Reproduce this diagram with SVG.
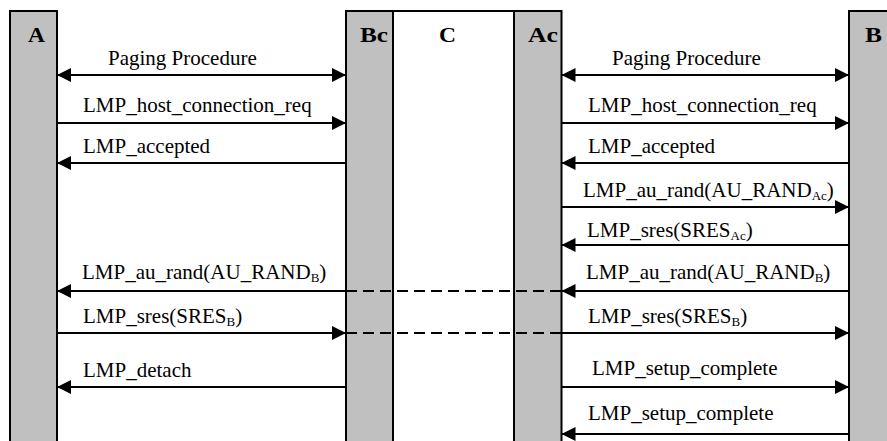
<svg xmlns="http://www.w3.org/2000/svg" width="887" height="441" viewBox="0 0 887 441">
<style>
.bar{fill:#c0c0c0;stroke:#000;stroke-width:2}
.box{fill:#fff;stroke:#000;stroke-width:2}
.title{font-family:"Liberation Serif","Times New Roman",serif;font-weight:bold;font-size:20px;fill:#000}
.msg{font-family:"Liberation Serif","Times New Roman",serif;font-size:21px;fill:#000}
.sub{font-size:13px}
.ln{stroke:#000;stroke-width:2;fill:none}
.dash{stroke:#000;stroke-width:2;fill:none;stroke-dasharray:11 6}
</style>
<defs>
<marker id="ah" markerUnits="userSpaceOnUse" markerWidth="14" markerHeight="14" viewBox="0 0 14 14" refX="14" refY="7" orient="auto-start-reverse">
<path d="M0,0 L14,7 L0,14 z" fill="#000"/>
</marker>
</defs>
<rect width="887" height="441" fill="#fff"/>
<g id="node-C">
<rect class="box" x="393" y="11" width="121" height="440"/>
<text class="title" x="439" y="42" textLength="17" lengthAdjust="spacingAndGlyphs">C</text>
</g>
<g id="node-A">
<rect class="bar" x="10" y="11" width="47" height="440"/>
<text class="title" x="28" y="42" textLength="17" lengthAdjust="spacingAndGlyphs">A</text>
</g>
<g id="node-Bc">
<rect class="bar" x="346" y="11" width="47" height="440"/>
<text class="title" x="360" y="42" textLength="28" lengthAdjust="spacingAndGlyphs">Bc</text>
</g>
<g id="node-Ac">
<rect class="bar" x="514" y="11" width="47.5" height="440"/>
<text class="title" x="528" y="42" textLength="30" lengthAdjust="spacingAndGlyphs">Ac</text>
</g>
<g id="node-B">
<rect class="bar" x="849" y="11" width="50" height="440"/>
<text class="title" x="865" y="42" textLength="17" lengthAdjust="spacingAndGlyphs">B</text>
</g>
<g id="connectors">
<line class="ln" x1="57" y1="75" x2="346" y2="75" marker-start="url(#ah)" marker-end="url(#ah)"/>
<line class="ln" x1="57" y1="123" x2="346" y2="123" marker-end="url(#ah)"/>
<line class="ln" x1="346" y1="163" x2="57" y2="163" marker-end="url(#ah)"/>
<line class="ln" x1="346" y1="291" x2="57" y2="291" marker-end="url(#ah)"/>
<line class="ln" x1="57" y1="333" x2="346" y2="333" marker-end="url(#ah)"/>
<line class="ln" x1="346" y1="387" x2="57" y2="387" marker-end="url(#ah)"/>
<line class="dash" x1="346" y1="291" x2="561.5" y2="291"/>
<line class="dash" x1="346" y1="333" x2="561.5" y2="333"/>
<line class="ln" x1="561.5" y1="75" x2="849" y2="75" marker-start="url(#ah)" marker-end="url(#ah)"/>
<line class="ln" x1="561.5" y1="123" x2="849" y2="123" marker-end="url(#ah)"/>
<line class="ln" x1="849" y1="163" x2="561.5" y2="163" marker-end="url(#ah)"/>
<line class="ln" x1="561.5" y1="207" x2="849" y2="207" marker-end="url(#ah)"/>
<line class="ln" x1="849" y1="245" x2="561.5" y2="245" marker-end="url(#ah)"/>
<line class="ln" x1="849" y1="291" x2="561.5" y2="291" marker-end="url(#ah)"/>
<line class="ln" x1="561.5" y1="333" x2="849" y2="333" marker-end="url(#ah)"/>
<line class="ln" x1="561.5" y1="387" x2="849" y2="387" marker-end="url(#ah)"/>
<line class="ln" x1="849" y1="434" x2="561.5" y2="434" marker-end="url(#ah)"/>
</g>
<g id="labels">
<text class="msg" x="108" y="65">Paging Procedure</text>
<text class="msg" x="83" y="112">LMP_host_connection_req</text>
<text class="msg" x="83" y="153">LMP_accepted</text>
<text class="msg" x="82" y="279">LMP_au_rand(AU_RAND<tspan class="sub" dy="3">B</tspan><tspan dy="-3">)</tspan></text>
<text class="msg" x="83" y="323">LMP_sres(SRES<tspan class="sub" dy="3">B</tspan><tspan dy="-3">)</tspan></text>
<text class="msg" x="83" y="377">LMP_detach</text>
<text class="msg" x="612" y="65">Paging Procedure</text>
<text class="msg" x="588" y="112">LMP_host_connection_req</text>
<text class="msg" x="588" y="153">LMP_accepted</text>
<text class="msg" x="583" y="197">LMP_au_rand(AU_RAND<tspan class="sub" dy="3">Ac</tspan><tspan dy="-3">)</tspan></text>
<text class="msg" x="587" y="237">LMP_sres(SRES<tspan class="sub" dy="3">Ac</tspan><tspan dy="-3">)</tspan></text>
<text class="msg" x="586" y="279">LMP_au_rand(AU_RAND<tspan class="sub" dy="3">B</tspan><tspan dy="-3">)</tspan></text>
<text class="msg" x="588" y="323">LMP_sres(SRES<tspan class="sub" dy="3">B</tspan><tspan dy="-3">)</tspan></text>
<text class="msg" x="592" y="375">LMP_setup_complete</text>
<text class="msg" x="588" y="420">LMP_setup_complete</text>
</g>
</svg>
